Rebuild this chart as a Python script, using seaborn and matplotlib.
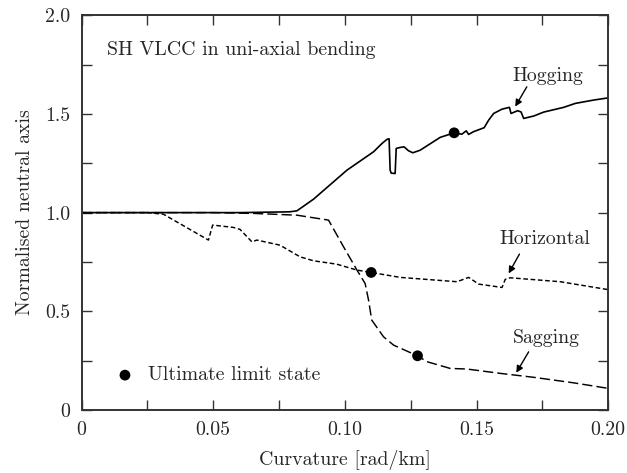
import numpy as np
import pandas as pd
import matplotlib
matplotlib.use("Agg")
import matplotlib.pyplot as plt
import seaborn as sns
from matplotlib.ticker import MultipleLocator, FixedLocator, FixedFormatter

# ================================
# DATA
# ================================
hog_x = [0.0, 0.060, 0.0790, 0.0818, 0.0881, 0.1008, 0.1109, 0.1141, 0.1160, 0.1168,
         0.1172, 0.1176, 0.1191, 0.1195, 0.1210, 0.1225, 0.1242, 0.1258, 0.1286, 0.1362,
         0.1415, 0.1444, 0.1461, 0.1470, 0.1489, 0.1529, 0.1546, 0.1565, 0.1597, 0.1625,
         0.1631, 0.1656, 0.1669, 0.1679, 0.1717, 0.1755, 0.1831, 0.1875, 0.1945, 0.2000]
hog_y = [1.000, 1.000, 1.004, 1.009, 1.068, 1.215, 1.308, 1.350, 1.371, 1.374,
         1.215, 1.200, 1.198, 1.325, 1.330, 1.333, 1.313, 1.303, 1.316, 1.381,
         1.404, 1.397, 1.414, 1.396, 1.410, 1.430, 1.468, 1.502, 1.524, 1.533,
         1.502, 1.516, 1.510, 1.477, 1.489, 1.509, 1.533, 1.553, 1.570, 1.581]

hor_x = [0.0, 0.025, 0.0311, 0.0482, 0.0498, 0.0577, 0.0602, 0.0647, 0.0666, 0.0754,
         0.0830, 0.0881, 0.0969, 0.1046, 0.1100, 0.1210, 0.1426, 0.1470, 0.1508, 0.1597,
         0.1609, 0.1628, 0.1818, 0.2000]
hor_y = [1.000, 1.000, 0.992, 0.861, 0.937, 0.925, 0.915, 0.852, 0.861, 0.835,
         0.776, 0.756, 0.739, 0.709, 0.697, 0.672, 0.650, 0.672, 0.638, 0.621,
         0.662, 0.670, 0.650, 0.610]

sag_x = [0.0, 0.050, 0.0653, 0.0818, 0.0938, 0.0995, 0.1046, 0.1077, 0.1090, 0.1102,
         0.1147, 0.1185, 0.1242, 0.1276, 0.1312, 0.1400, 0.1463, 0.1590, 0.1717, 0.1869,
         0.2000]
sag_y = [1.000, 1.000, 0.996, 0.987, 0.962, 0.827, 0.709, 0.641, 0.557, 0.456,
         0.371, 0.329, 0.295, 0.275, 0.245, 0.211, 0.208, 0.186, 0.166, 0.138,
         0.110]

# ultimate limit state points (hogging, horizontal, sagging)
uls_x = [0.1415, 0.1100, 0.1276]
uls_y = [1.404, 0.697, 0.275]

# ================================
# STYLE
# ================================
FS = 14.3
sns.set_theme(style="ticks")
plt.rcParams['font.family'] = ['cmr10', 'DejaVu Serif']
plt.rcParams['axes.formatter.use_mathtext'] = True
plt.rcParams['font.size'] = FS

fig = plt.figure(figsize=(6.27, 4.73), dpi=100)
ax = fig.add_axes([0.130, 0.133, 0.840, 0.835])

# ================================
# CURVES
# ================================
sns.lineplot(x=hog_x, y=hog_y, ax=ax, color='black', linewidth=1.2,
             sort=False, estimator=None)
sns.lineplot(x=hor_x, y=hor_y, ax=ax, color='black', linewidth=1.05,
             linestyle=(0, (3.2, 1.8)), sort=False, estimator=None)
sns.lineplot(x=sag_x, y=sag_y, ax=ax, color='black', linewidth=1.05,
             linestyle=(0, (7, 2.8)), sort=False, estimator=None)
sns.scatterplot(x=uls_x, y=uls_y, ax=ax, color='black', s=60, edgecolor='none', zorder=5)

# legend-like marker
ax.scatter([0.0165], [0.177], color='black', s=60, edgecolor='none')
ax.text(0.0253, 0.177, "Ultimate limit state", va='center', ha='left', fontsize=FS)

ax.text(0.0096, 1.823, "SH VLCC in uni-axial bending", va='center', ha='left', fontsize=FS)

# ---- annotations ----
arrow = dict(arrowstyle='-|>', color='black', lw=1.0, mutation_scale=10,
             shrinkA=0, shrinkB=0)
ax.annotate("", xy=(0.1647, 1.537), xytext=(0.1691, 1.637), arrowprops=arrow)
ax.text(0.1772, 1.692, "Hogging", ha='center', va='center', fontsize=FS)
ax.annotate("", xy=(0.1622, 0.692), xytext=(0.1663, 0.790), arrowprops=arrow)
ax.text(0.1760, 0.866, "Horizontal", ha='center', va='center', fontsize=FS)
ax.annotate("", xy=(0.1651, 0.189), xytext=(0.1698, 0.295), arrowprops=arrow)
ax.text(0.1767, 0.364, "Sagging", ha='center', va='center', fontsize=FS)

# ================================
# AXES
# ================================
ax.set_xlim(0, 0.20)
ax.set_ylim(0, 2.0)
ax.xaxis.set_major_locator(FixedLocator([0, 0.05, 0.10, 0.15, 0.20]))
ax.xaxis.set_major_formatter(FixedFormatter(["0", "0.05", "0.10", "0.15", "0.20"]))
ax.xaxis.set_minor_locator(MultipleLocator(0.025))
ax.yaxis.set_major_locator(FixedLocator([0, 0.5, 1.0, 1.5, 2.0]))
ax.yaxis.set_major_formatter(FixedFormatter(["0", "0.5", "1.0", "1.5", "2.0"]))
ax.yaxis.set_minor_locator(MultipleLocator(0.25))

ax.tick_params(which='both', direction='in', top=True, right=True,
               length=7, width=1.0, color='#333333', labelsize=FS, pad=8)

for sp in ax.spines.values():
    sp.set_linewidth(1.4)
    sp.set_color('#333333')

ax.set_xlabel("Curvature [rad/km]", fontsize=FS, labelpad=8)
ax.set_ylabel("Normalised neutral axis", fontsize=FS, labelpad=8)

fig.savefig("out.png", dpi=100)
